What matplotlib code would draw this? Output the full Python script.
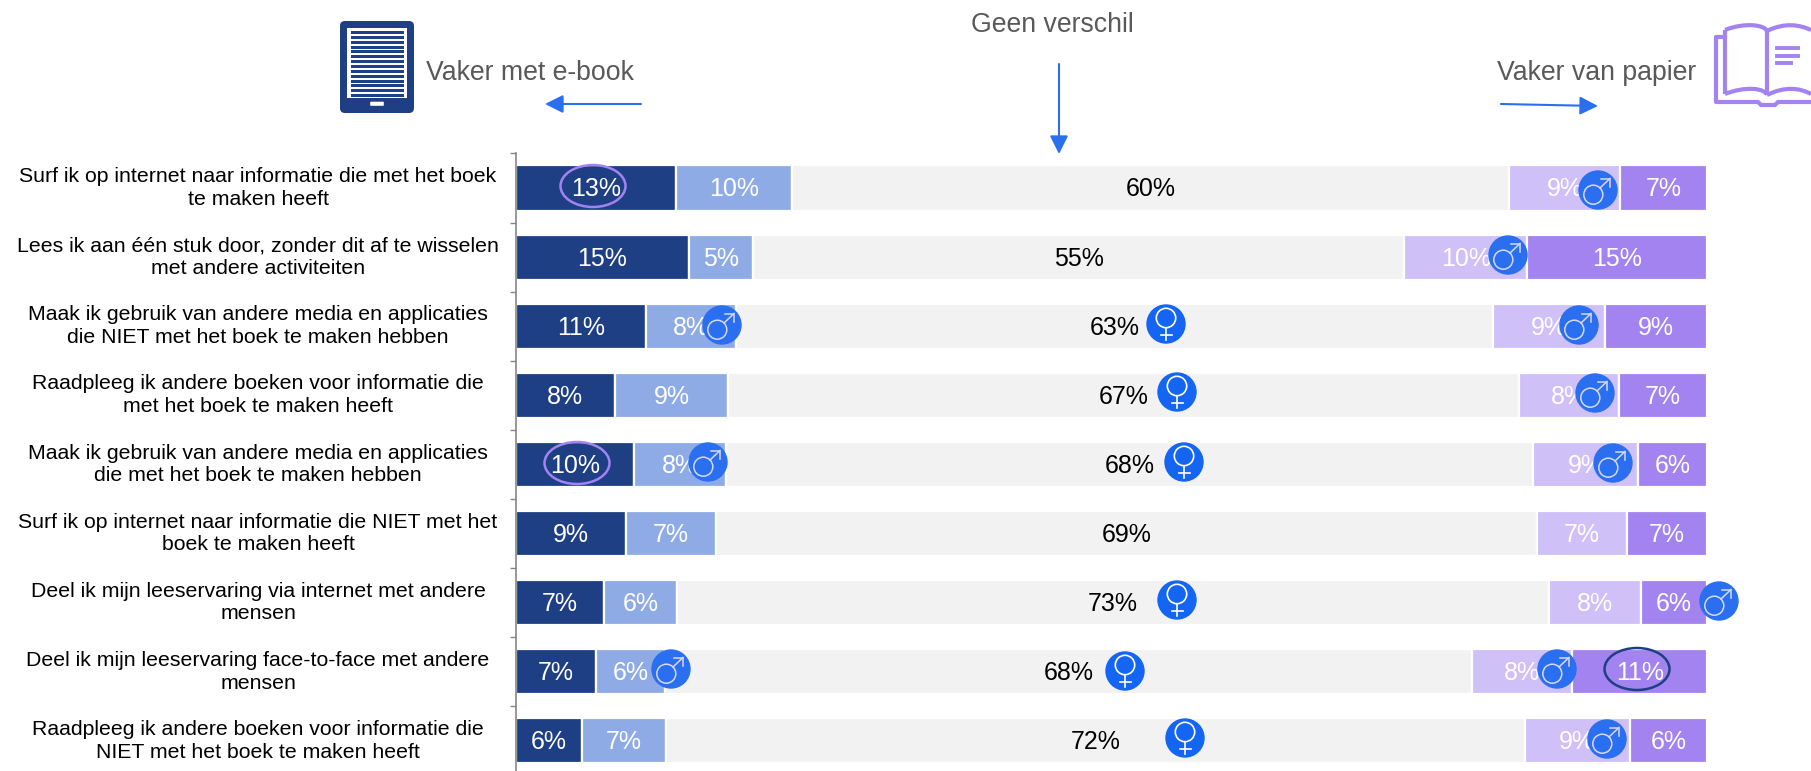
import matplotlib
matplotlib.use("Agg")
import matplotlib.pyplot as plt
from matplotlib.patches import Circle, Ellipse, FancyBboxPatch, Rectangle
from matplotlib.path import Path
from matplotlib.patches import PathPatch

plt.rcParams['font.family'] = ['Liberation Sans', 'DejaVu Sans']

categories = [
    "Surf ik op internet naar informatie die met het boek\nte maken heeft",
    "Lees ik aan één stuk door, zonder dit af te wisselen\nmet andere activiteiten",
    "Maak ik gebruik van andere media en applicaties\ndie NIET met het boek te maken hebben",
    "Raadpleeg ik andere boeken voor informatie die\nmet het boek te maken heeft",
    "Maak ik gebruik van andere media en applicaties\ndie met het boek te maken hebben",
    "Surf ik op internet naar informatie die NIET met het\nboek te maken heeft",
    "Deel ik mijn leeservaring via internet met andere\nmensen",
    "Deel ik mijn leeservaring face-to-face met andere\nmensen",
    "Raadpleeg ik andere boeken voor informatie die\nNIET met het boek te maken heeft",
]

# widths, printed labels are kept apart because they are rounded
ebook_much = [13.4, 14.5, 10.9, 8.3, 9.9, 9.2, 7.4, 6.7, 5.5]
ebook_bit = [9.8, 5.4, 7.6, 9.5, 7.7, 7.6, 6.1, 5.8, 7.1]
no_diff = [60.2, 54.7, 63.5, 66.4, 67.8, 68.9, 73.2, 67.8, 72.1]
paper_bit = [9.3, 10.3, 9.4, 8.4, 8.8, 7.6, 7.8, 8.4, 8.8]
paper_much = [7.3, 15.1, 8.6, 7.4, 5.8, 6.7, 5.5, 11.3, 6.5]

ebook_much_lab = [13, 15, 11, 8, 10, 9, 7, 7, 6]
ebook_bit_lab = [10, 5, 8, 9, 8, 7, 6, 6, 7]
no_diff_lab = [60, 55, 63, 67, 68, 69, 73, 68, 72]
paper_bit_lab = [9, 10, 9, 8, 9, 7, 8, 8, 9]
paper_much_lab = [7, 15, 9, 7, 6, 7, 6, 11, 6]

series = [ebook_much, ebook_bit, no_diff, paper_bit, paper_much]
series_lab = [ebook_much_lab, ebook_bit_lab, no_diff_lab, paper_bit_lab, paper_much_lab]
colors = ['#1F3F85', '#8FABE5', '#F2F2F2', '#CFC0F8', '#A283F0']
text_colors = ['white', 'white', 'black', 'white', 'white']

# gender badges: symbol, x pixel, y pixel
badges = [
    ('m', 1598, 190), ('m', 1508, 255), ('m', 722, 325), ('f', 1166, 324), ('m', 1579, 325),
    ('f', 1177, 392), ('m', 1595, 393), ('m', 708, 462), ('f', 1184, 462), ('m', 1613, 463),
    ('f', 1177, 600), ('m', 1719, 601), ('m', 671, 669), ('f', 1125, 671), ('m', 1557, 669),
    ('f', 1185, 738), ('m', 1607, 739),
]

BLUE = '#2A6FF0'
FEMALE_BLUE = '#1565F5'
NAVY = '#1F3F85'
PURPLE = '#A283F0'
GREY = '#595959'
W, H = 1811, 771

fig = plt.figure(figsize=(W / 100, H / 100), dpi=100)

# bars axes: x 516..1707, y from first tick at 153.5 to the bottom of the picture
ax = fig.add_axes([516 / W, 0, (1707 - 516) / W, (H - 153.5) / H])
left = [0] * len(categories)
for vals, labs, c, tc in zip(series, series_lab, colors, text_colors):
    bars = ax.barh(range(len(categories)), vals, left=left, height=0.655, color=c,
                   edgecolor='white', linewidth=1.6, zorder=2)
    texts = ax.bar_label(bars, labels=[f"{v}%" for v in labs], label_type='center', color=tc, fontsize=18)
    for t in texts:
        t.xyann = (0, -1)
    left = [a + b for a, b in zip(left, vals)]

ax.set_xlim(0, 100)
ax.set_ylim((H - 188) / 69.1, -0.5)
ax.set_xticks([])
ax.set_yticks([i - 0.5 for i in range(9)])
ax.set_yticklabels([])
ax.tick_params(axis='y', length=4.5, width=1, color='#868686')
for s in ['top', 'right', 'bottom']:
    ax.spines[s].set_visible(False)
ax.spines['left'].set_color('#868686')
ax.spines['left'].set_linewidth(1.2)
ax.spines['left'].set_zorder(3)
for i, cat in enumerate(categories):
    ax.text(-21.66, i, cat, ha='center', va='center', fontsize=15.3, linespacing=1.25, clip_on=False)

# overlay in picture pixels for icons, arrows and badges
ov = fig.add_axes([0, 0, 1, 1], zorder=5)
ov.set_xlim(0, W)
ov.set_ylim(H, 0)
ov.axis('off')
ov.patch.set_alpha(0)


def male(x, y):
    ov.add_patch(Circle((x, y), 19, color=BLUE, zorder=6))
    edge = '#D8D8F8'
    ov.add_patch(Circle((x - 4.7, y + 4.7), 9.5, fill=False, ec=edge, lw=1.1, zorder=7))
    ov.plot([x + 2, x + 12], [y - 2, y - 11.5], color=edge, lw=1.1, zorder=7)
    ov.plot([x + 3, x + 12, x + 12], [y - 11.5, y - 11.5, y - 3], color=edge, lw=1.1, zorder=7)


def female(x, y):
    ov.add_patch(Circle((x, y), 19, color=FEMALE_BLUE, zorder=6))
    ov.add_patch(Circle((x, y - 6), 9.7, fill=False, ec='white', lw=1.2, zorder=7))
    ov.plot([x, x], [y + 4, y + 15.5], color='white', lw=1.2, zorder=7)
    ov.plot([x - 5.5, x + 5.5], [y + 10.5, y + 10.5], color='white', lw=1.2, zorder=7)


for kind, bx, by in badges:
    if kind == 'm':
        male(bx, by)
    else:
        female(bx, by)

# ellipses round the significant values
ov.add_patch(Ellipse((593, 186), 65, 42, fill=False, ec=PURPLE, lw=1.8, zorder=6))
ov.add_patch(Ellipse((577, 463), 65, 42, fill=False, ec=PURPLE, lw=1.8, zorder=6))
ov.add_patch(Ellipse((1637, 669), 65, 42, fill=False, ec=NAVY, lw=1.8, zorder=6))

# header texts and arrows
ov.text(1052, 24.5, "Geen verschil", ha='center', va='center', fontsize=19.2, color=GREY)
ov.text(426, 73.5, "Vaker met e-book", ha='left', va='center', fontsize=19.2, color=GREY)
ov.text(1497, 73.5, "Vaker van papier", ha='left', va='center', fontsize=19.2, color=GREY)
for start, end in [((641, 104), (545, 104)), ((1501, 104), (1598, 106)), ((1059, 64), (1059, 154))]:
    ov.annotate("", xy=end, xytext=start,
                arrowprops=dict(arrowstyle='-|>,head_length=1.1,head_width=0.55', color=BLUE, lw=1.5,
                                shrinkA=0, shrinkB=0))

# e-book icon
ov.add_patch(FancyBboxPatch((343, 24), 68, 86, boxstyle="round,pad=3,rounding_size=5", fc=NAVY, ec='none'))
ov.add_patch(Rectangle((347, 28), 60, 70, fc='white', ec='none'))
for k in range(14):
    ov.add_patch(Rectangle((351, 31 + k * 4.85), 53, 3, fc=NAVY, ec='none'))
ov.add_patch(FancyBboxPatch((371, 102.5), 12, 2.5, boxstyle="round,pad=0.8", fc='white', ec='none'))

# paper book icon
book = [
    [(1725, 30), (1745, 22), (1765, 25), (1767, 31)],
    [(1725, 30), (1725, 94)],
    [(1725, 94), (1745, 86), (1765, 88), (1767, 95)],
    [(1767, 31), (1767, 95)],
    [(1767, 31), (1785, 22), (1800, 25), (1811, 30)],
    [(1767, 95), (1785, 86), (1800, 88), (1811, 94)],
]
for seg in book:
    if len(seg) == 4:
        p = Path(seg, [Path.MOVETO, Path.CURVE4, Path.CURVE4, Path.CURVE4])
    else:
        p = Path(seg, [Path.MOVETO, Path.LINETO])
    ov.add_patch(PathPatch(p, fill=False, ec=PURPLE, lw=3))
ov.plot([1725, 1716, 1716, 1758, 1761, 1775, 1778, 1811],
        [37, 37, 102, 102, 105, 105, 102, 102], color=PURPLE, lw=3)
ov.plot([1777, 1798], [47.7, 47.7], color=PURPLE, lw=2.8)
ov.plot([1777, 1798], [55.7, 55.7], color=PURPLE, lw=2.8)
ov.plot([1777, 1791], [63.3, 63.3], color=PURPLE, lw=2.8)

fig.savefig("out.png", dpi=100)
